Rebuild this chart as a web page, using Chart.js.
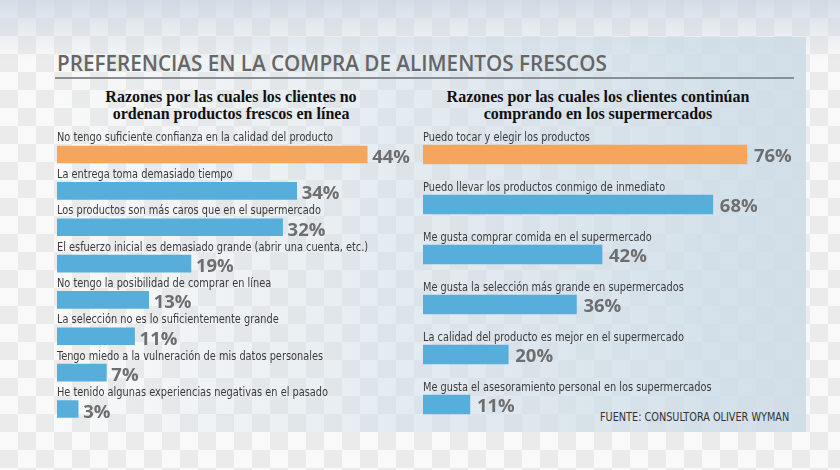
<!DOCTYPE html>
<html>
<head>
<meta charset="utf-8">
<script src="https://cdn.jsdelivr.net/npm/chart.js@4.4.1/dist/chart.umd.min.js"></script>
<style>
  html, body { margin: 0; padding: 0; }
  body {
    width: 840px; height: 470px; position: relative; overflow: hidden;
    background: repeating-conic-gradient(#ebebeb 0 25%, #f9f9f9 0 50%) 0 0 / 36px 36px;
  }
  .topband {
    position: absolute; left: 0; top: 0; width: 840px; height: 60px;
    background: linear-gradient(to bottom, rgba(200,212,224,0.75), rgba(200,212,224,0));
  }
  .panel {
    position: absolute; left: 50px; top: 37px; width: 756px; height: 395px;
    background: linear-gradient(to right, rgba(205,220,231,0) 0%, rgba(205,220,231,0.45) 45%, rgba(205,220,231,0.9) 100%);
  }
  .title {
    position: absolute; left: 57px; top: 50px; white-space: nowrap;
    font-family: "Open Sans", sans-serif; font-weight: 600; font-size: 21px;
    color: #666; line-height: 26px; transform-origin: left top;
  }
  .rule {
    position: absolute; left: 55px; top: 77px; width: 739px; height: 2px; background: #8a8f94;
  }
  .sub {
    position: absolute; top: 88px; text-align: center;
    font-family: "Liberation Serif", serif; font-weight: bold; font-size: 16px;
    line-height: 17px; color: #111;
  }
  .source {
    position: absolute; left: 600px; top: 409px; white-space: nowrap;
    font-family: "Liberation Sans Narrow", "DejaVu Sans Condensed", sans-serif;
    font-size: 12.5px; color: #333; transform-origin: left top;
  }
  canvas { position: absolute; left: 0; top: 0; }
</style>
</head>
<body>
<div class="topband"></div>
<div class="panel"></div>
<div class="title" id="title">PREFERENCIAS EN LA COMPRA DE ALIMENTOS FRESCOS</div>
<div class="rule"></div>
<div class="sub" style="left:61px;width:340px;">Razones por las cuales los clientes no<br>ordenan productos frescos en línea</div>
<div class="sub" style="left:418px;width:360px;">Razones por las cuales los clientes continúan<br>comprando en los supermercados</div>
<div class="source" id="source">FUENTE: CONSULTORA OLIVER WYMAN</div>
<div style="position:absolute;left:0;top:0;width:840px;height:470px;"><canvas id="leftChart"></canvas></div>
<div style="position:absolute;left:0;top:0;width:840px;height:470px;"><canvas id="rightChart"></canvas></div>

<script>
// data
const leftLabels = [
  'No tengo suficiente confianza en la calidad del producto',
  'La entrega toma demasiado tiempo',
  'Los productos son más caros que en el supermercado',
  'El esfuerzo inicial es demasiado grande (abrir una cuenta, etc.)',
  'No tengo la posibilidad de comprar en línea',
  'La selección no es lo suficientemente grande',
  'Tengo miedo a la vulneración de mis datos personales',
  'He tenido algunas experiencias negativas en el pasado'
];
const leftValues = [44, 34, 32, 19, 13, 11, 7, 3];

const rightLabels = [
  'Puedo tocar y elegir los productos',
  'Puedo llevar los productos conmigo de inmediato',
  'Me gusta comprar comida en el supermercado',
  'Me gusta la selección más grande en supermercados',
  'La calidad del producto es mejor en el supermercado',
  'Me gusta el asesoramiento personal en los supermercados'
];
const rightValues = [76, 68, 42, 36, 20, 11];

const ORANGE = '#f6a65c';
const BLUE = '#58aedb';
const LABEL_FONT = '12.5px "Liberation Sans Narrow", "DejaVu Sans Condensed", sans-serif';

// squeeze title / source to the widths in the picture
const t = document.getElementById('title');
t.style.transform = 'scaleX(' + (550 / t.offsetWidth) + ')';
const s = document.getElementById('source');
s.style.transform = 'scaleX(' + (189 / s.offsetWidth) + ')';

// label text is a condensed face; squeeze whatever font we got
const mctx = document.createElement('canvas').getContext('2d');
mctx.font = LABEL_FONT;
const squeeze = Math.min(1, 276 / mctx.measureText(leftLabels[0]).width);

// draws the category text above each bar and the value after it
const barText = {
  id: 'barText',
  afterDatasetsDraw(chart, args, opts) {
    const ctx = chart.ctx;
    const meta = chart.getDatasetMeta(0);
    const labels = chart.data.labels;
    const vals = chart.data.datasets[0].data;
    meta.data.forEach((bar, i) => {
      const top = bar.y - bar.height / 2;
      const bottom = bar.y + bar.height / 2;
      ctx.save();
      ctx.textAlign = 'left';
      ctx.textBaseline = 'alphabetic';
      ctx.fillStyle = '#3a3a3a';
      ctx.font = LABEL_FONT;
      ctx.translate(chart.chartArea.left, top - 4.5);
      ctx.scale(squeeze, 1);
      ctx.fillText(labels[i], 0, 0);
      ctx.restore();
      ctx.save();
      ctx.fillStyle = '#6e6e6e';
      ctx.font = '700 18.5px "Open Sans", sans-serif';
      ctx.textBaseline = 'alphabetic';
      ctx.fillText(vals[i] + '%', bar.x + opts.gap, bottom + opts.lift);
      ctx.restore();
    });
  }
};

function makeChart(id, labels, values, thick, pad, xmax, gap, lift) {
  return new Chart(document.getElementById(id), {
    type: 'bar',
    data: {
      labels: labels,
      datasets: [{
        data: values,
        backgroundColor: values.map((v, i) => i === 0 ? ORANGE : BLUE),
        barThickness: thick,
        borderWidth: 0
      }]
    },
    options: {
      indexAxis: 'y',
      responsive: true,
      maintainAspectRatio: false,
      animation: false,
      layout: { padding: pad },
      scales: {
        x: { display: false, min: 0, max: xmax },
        y: { display: false }
      },
      plugins: {
        legend: { display: false },
        tooltip: { enabled: false },
        barText: { gap: gap, lift: lift }
      }
    },
    plugins: [barText]
  });
}

makeChart('leftChart', leftLabels, leftValues, 17,
  { left: 57, right: 430.5, top: 136.3, bottom: 42.8 }, 50, 5, 0);
makeChart('rightChart', rightLabels, rightValues, 19,
  { left: 423, right: 33.4, top: 129.5, bottom: 40.5 }, 90, 7, -2);
</script>
</body>
</html>
